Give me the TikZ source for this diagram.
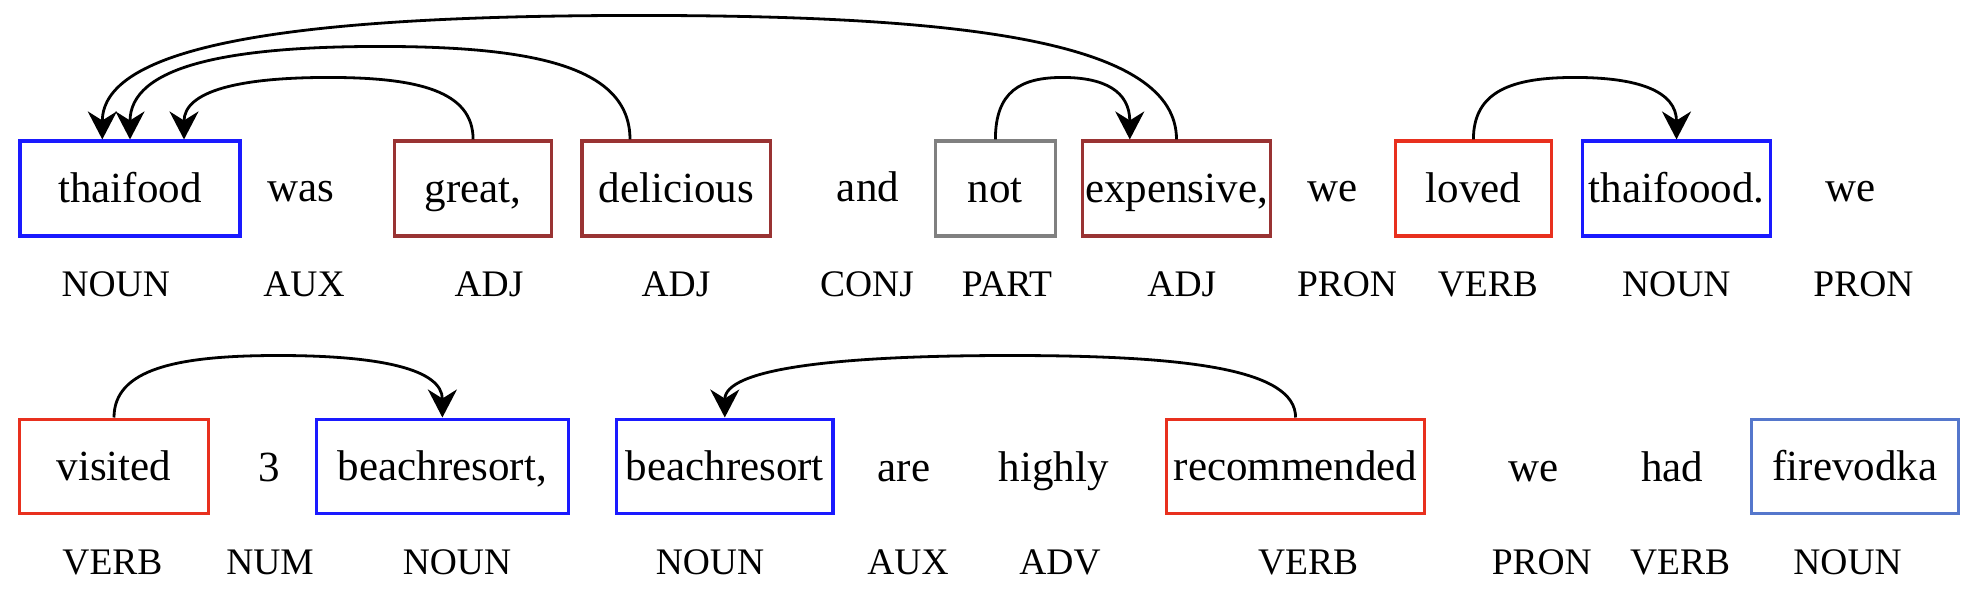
\documentclass[tikz,border=0pt]{standalone}
\usepackage{fontspec}
\setmainfont{Liberation Serif}
\usetikzlibrary{arrows.meta,calc}
\definecolor{cblue}{RGB}{26,26,255}
\definecolor{cbrown}{RGB}{153,51,51}
\definecolor{cred}{RGB}{232,48,30}
\definecolor{cgray}{RGB}{128,128,128}
\definecolor{clblue}{RGB}{85,119,204}
% #1 source, #2 target, #3 apex height (pt)
\newcommand{\deparc}[3]{%
  \draw[dep] let \p1=(#1), \p2=(#2), \n1={(\x2-\x1)/2} in
    (\p1) .. controls (\x1,{\y1+0.78*#3pt}) and ({\x1+0.38*\n1},{\y1+#3pt}) ..
    ({\x1+\n1},{\y1+#3pt}) .. controls ({\x1+1.62*\n1},{\y1+#3pt}) and (\x2,{\y2+0.78*#3pt}) .. (\p2);}
\begin{document}
\begin{tikzpicture}[x=1pt,y=-1pt,
  wordbox/.style={draw, line width=3.1pt, inner sep=0pt, minimum height=95pt,
    font=\fontsize{43}{50}\selectfont, text height=34pt, text depth=6pt},
  word/.style={anchor=base, inner sep=0pt, font=\fontsize{43}{50}\selectfont},
  tag/.style={anchor=base, inner sep=0pt, font=\fontsize{37.5}{44}\selectfont},
  dep/.style={line width=2.8pt, -{Stealth[length=28pt,width=29pt,inset=9pt]}}]
\useasboundingbox (0,0) rectangle (1977,605);
% ---------- row 1 ----------
\node[wordbox, cblue, text=black, minimum width=220pt] (thaifood) at (130,188.5) {thaifood};
\node[word] (was) at (301,201) {was};
\node[wordbox, cbrown, text=black, minimum width=157.4pt] (great) at (473.1,188.5) {great,};
\node[wordbox, cbrown, text=black, minimum width=188.8pt] (delicious) at (676.4,188.5) {delicious};
\node[word] (and) at (868,201) {and};
\node[wordbox, cgray, text=black, minimum width=120pt] (not) at (995.4,188.5) {not};
\node[wordbox, cbrown, text=black, minimum width=188.6pt] (expensive) at (1176.5,188.5) {expensive,};
\node[word] (we1) at (1332.4,201) {we};
\node[wordbox, cred, text=black, minimum width=156.7pt] (loved) at (1473.4,188.5) {loved};
\node[wordbox, cblue, text=black, minimum width=188.2pt] (thaifoood) at (1676.5,188.5) {thaifoood.};
\node[word] (we2) at (1850.8,201) {we};
% tags row 1
\node[tag] (t1) at (115.7,296) {NOUN};
\node[tag] (t2) at (304,296) {AUX};
\node[tag] (t3) at (489,296) {ADJ};
\node[tag] (t4) at (676,296) {ADJ};
\node[tag] (t5) at (867,296) {CONJ};
\node[tag] (t6) at (1007,296) {PART};
\node[tag] (t7) at (1181.8,296) {ADJ};
\node[tag] (t8) at (1347,296) {PRON};
\node[tag] (t9) at (1487.8,296) {VERB};
\node[tag] (t10) at (1676.3,296) {NOUN};
\node[tag] (t11) at (1863.4,296) {PRON};
% ---------- row 2 ----------
\node[wordbox, cred, text=black, minimum width=188.5pt, minimum height=94.7pt] (visited) at (114,466.4) {visited};
\node[word] (three) at (269,481.7) {3};
\node[wordbox, cblue, text=black, minimum width=251.7pt, minimum height=94.7pt] (beachA) at (442.4,466.4) {beachresort,};
\node[wordbox, cblue, text=black, minimum width=216.4pt, minimum height=94.7pt] (beachB) at (724.8,466.4) {beachresort};
\node[word] (are) at (904,481.7) {are};
\node[word] (highly) at (1053.6,481.7) {highly};
\node[wordbox, cred, text=black, minimum width=257.6pt, minimum height=94.7pt] (recommended) at (1295.6,466.4) {recommended};
\node[word] (we3) at (1533.4,481.7) {we};
\node[word] (had) at (1672.4,481.7) {had};
\node[wordbox, clblue, text=black, minimum width=207.3pt, minimum height=94.7pt] (firevodka) at (1854.8,466.4) {firevodka};
% tags row 2
\node[tag] (u1) at (112.5,574.3) {VERB};
\node[tag] (u2) at (270,574.3) {NUM};
\node[tag] (u3) at (457,574.3) {NOUN};
\node[tag] (u4) at (710,574.3) {NOUN};
\node[tag] (u5) at (908,574.3) {AUX};
\node[tag] (u6) at (1060,574.3) {ADV};
\node[tag] (u7) at (1308,574.3) {VERB};
\node[tag] (u8) at (1541.8,574.3) {PRON};
\node[tag] (u9) at (1680,574.3) {VERB};
\node[tag] (u10) at (1847.5,574.3) {NOUN};
% ---------- arc end points ----------
\coordinate (expS) at (expensive.north);
\coordinate (thaiT1) at ([xshift=-27.7pt]thaifood.north);
\coordinate (delS) at ([xshift=-46.4pt]delicious.north);
\coordinate (thaiT2) at (thaifood.north);
\coordinate (greatS) at (great.north);
\coordinate (thaiT3) at ([xshift=54pt]thaifood.north);
\coordinate (notS) at (not.north);
\coordinate (expT) at ([xshift=-46.7pt]expensive.north);
\coordinate (lovedS) at (loved.north);
\coordinate (thaioT) at (thaifoood.north);
\coordinate (visS) at (visited.north);
\coordinate (beachAT) at (beachA.north);
\coordinate (recS) at (recommended.north);
\coordinate (beachBT) at (beachB.north);
% ---------- arcs ----------
\deparc{expS}{thaiT1}{124}
\deparc{delS}{thaiT2}{93}
\deparc{greatS}{thaiT3}{62}
\deparc{notS}{expT}{62}
\deparc{lovedS}{thaioT}{62}
\deparc{visS}{beachAT}{62}
\deparc{recS}{beachBT}{62}
\end{tikzpicture}
\end{document}
